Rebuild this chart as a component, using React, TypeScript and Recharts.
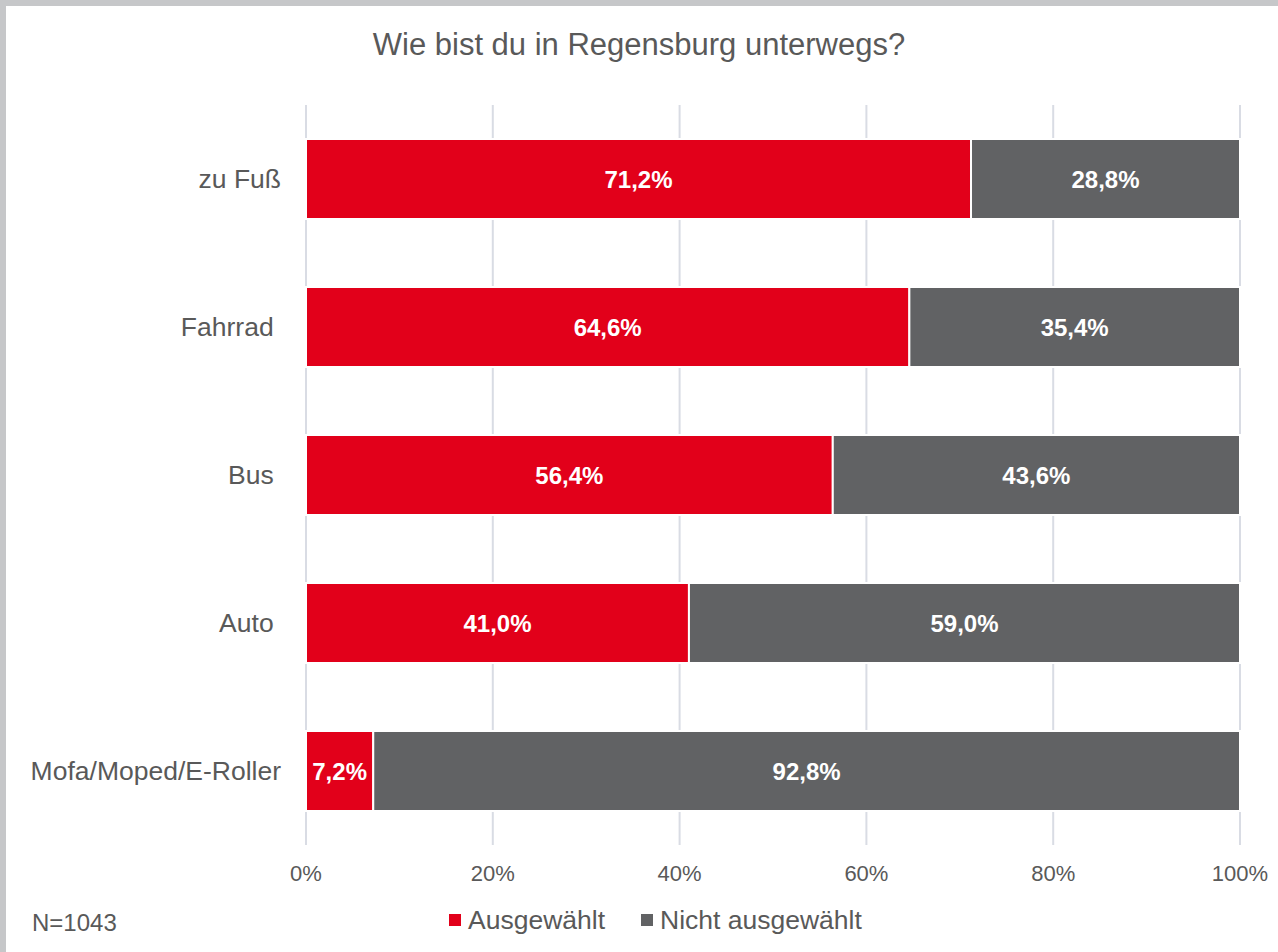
import React from 'react';
import { BarChart, Bar, XAxis, YAxis, CartesianGrid, LabelList } from 'recharts';

const categories = ['zu Fuß', 'Fahrrad\u00A0', 'Bus\u00A0', 'Auto\u00A0', 'Mofa/Moped/E-Roller'];
const selected = [71.2, 64.6, 56.4, 41.0, 7.2];
const notSelected = [28.8, 35.4, 43.6, 59.0, 92.8];
const xTicks = [0, 20, 40, 60, 80, 100];
const seriesNames = ['Ausgewählt', 'Nicht ausgewählt'];
const seriesColors = ['#E2001A', '#616264'];
const title = 'Wie bist du in Regensburg unterwegs?';
const note = 'N=1043';

const data = categories.map((c, i) => ({ name: c, a: selected[i], b: notSelected[i] }));

const FONT = '"Liberation Sans", Arial, sans-serif';
const fmt = (v: any) => Number(v).toFixed(1).replace('.', ',') + '%';

export default function App() {
  return (
    <div style={{ position: 'absolute', left: 0, top: 0, width: 1278, height: 952, background: '#fff', fontFamily: FONT, overflow: 'hidden' }}>
      <div style={{ position: 'absolute', left: 0, top: 0, width: 1278, height: 6, background: '#C6C7C9' }} />
      <div style={{ position: 'absolute', left: 0, top: 0, width: 6, height: 952, background: '#C6C7C9' }} />
      <div style={{ position: 'absolute', left: 0, top: 26, width: 1278, textAlign: 'center', fontSize: 31, lineHeight: '38px', color: '#595959' }}>{title}</div>
      <div style={{ position: 'absolute', left: 0, top: 0 }}>
        <BarChart width={1278} height={952} data={data} layout="vertical" barCategoryGap="23%"
          margin={{ top: 105, right: 38, bottom: 47, left: 6 }}>
          <CartesianGrid horizontal={false} stroke="#D9DCE4" strokeWidth={2} />
          <XAxis type="number" domain={[0, 100]} ticks={xTicks} tickFormatter={(v) => v + '%'}
            axisLine={false} tickLine={false} tickMargin={14} height={60}
            tick={{ fill: '#595959', fontSize: 22, fontFamily: FONT }} interval={0} />
          <YAxis type="category" dataKey="name" width={300} axisLine={false} tickLine={false} tickMargin={19}
            tick={{ fill: '#595959', fontSize: 26.5, fontFamily: FONT }} interval={0} />
          <Bar dataKey="a" stackId="s" fill={seriesColors[0]} stroke="#fff" strokeWidth={2} isAnimationActive={false} name={seriesNames[0]}>
            <LabelList dataKey="a" position="center" formatter={fmt} fill="#fff" fontSize={24} fontWeight="bold" fontFamily={FONT} />
          </Bar>
          <Bar dataKey="b" stackId="s" fill={seriesColors[1]} stroke="#fff" strokeWidth={2} isAnimationActive={false} name={seriesNames[1]}>
            <LabelList dataKey="b" position="center" formatter={fmt} fill="#fff" fontSize={24} fontWeight="bold" fontFamily={FONT} />
          </Bar>
        </BarChart>
      </div>
      <div style={{ position: 'absolute', left: 32, top: 909, fontSize: 24, lineHeight: '28px', color: '#595959' }}>{note}</div>
      <div style={{ position: 'absolute', left: 449, top: 905, display: 'flex', alignItems: 'center', fontSize: 26.5, lineHeight: '30px', color: '#595959' }}>
        {seriesNames.map((n, i) => (
          <div key={n} style={{ display: 'flex', alignItems: 'center', marginRight: 36 }}>
            <div style={{ width: 12, height: 12, background: seriesColors[i], marginRight: 7 }} />
            <span>{n}</span>
          </div>
        ))}
      </div>
    </div>
  );
}
